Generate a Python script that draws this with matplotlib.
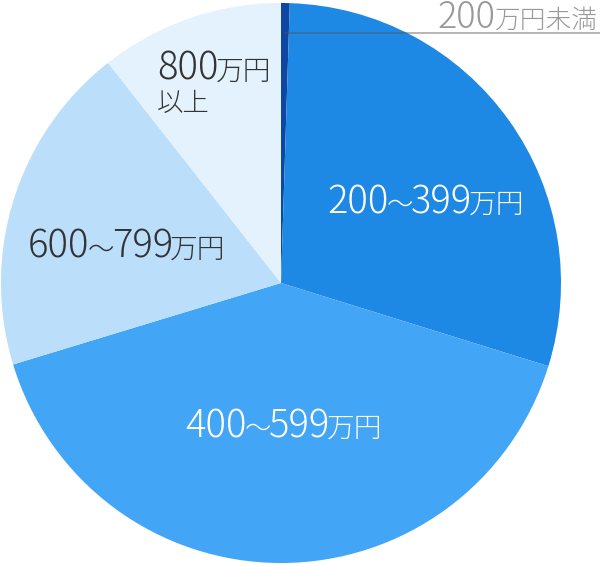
import matplotlib
matplotlib.use("Agg")
import matplotlib.pyplot as plt

categories = ["200万円未満", "200~399万円", "400~599万円", "600~799万円", "800万円以上"]
values = [0.5, 29.3, 40.5, 19.1, 10.6]
colors = ["#0D47A1", "#1E88E5", "#42A5F5", "#BBDEFB", "#E3F2FD"]

W, H = 600, 564
fig = plt.figure(figsize=(W / 100, H / 100), dpi=100)
ax = fig.add_axes([0, 0, 1, 1])

cx, cy, r = 281, H - 283, 280
ax.pie(values, colors=colors, startangle=90, counterclock=False,
       center=(cx, cy), radius=r, frame=True,
       wedgeprops=dict(linewidth=0))
ax.set_xlim(0, W)
ax.set_ylim(0, H)
ax.set_aspect("equal")
ax.axis("off")

JP = ["Noto Sans CJK JP", "DejaVu Sans"]
WEIGHT = "light"
fig.canvas.draw()
renderer = fig.canvas.get_renderer()


def parts_label(x, ytop, parts, color, align="left"):
    """parts: list of (text, size, gap_after)"""
    y = H - ytop
    cur = x
    seq = parts if align == "left" else list(reversed(parts))
    for txt, size, gap in seq:
        t = ax.text(cur, y, txt, fontsize=size, family=JP, fontweight=WEIGHT,
                    color=color, ha=align, va="baseline")
        bb = t.get_window_extent(renderer)
        cur = bb.x1 + gap if align == "left" else bb.x0 - gap


def range_label(x, ytop, text, color):
    lo, hi = text[:3], text[4:7]
    parts_label(x, ytop, [(lo, 27.5, -2), ("～", 19, -2),
                          (hi, 27.5, -3), (text[7:], 20, 0)], color)


range_label(327, 213, categories[1], "white")
range_label(185, 437, categories[2], "white")
range_label(28, 258, categories[3], "#333333")
parts_label(157, 80, [("800", 27.5, -3), ("万円", 20, 0)], "#333333")
ax.text(157, H - 111, "以上", fontsize=19, family=JP, fontweight=WEIGHT,
        color="#333333", ha="left", va="baseline")
parts_label(598, 28, [("200", 26, -3), ("万円未満", 18.5, 0)], "#999999",
            align="right")

ax.plot([284, W], [H - 33, H - 33], color="#555555", alpha=0.5, lw=1.2,
        solid_capstyle="butt")

fig.savefig("out.png", dpi=100)
